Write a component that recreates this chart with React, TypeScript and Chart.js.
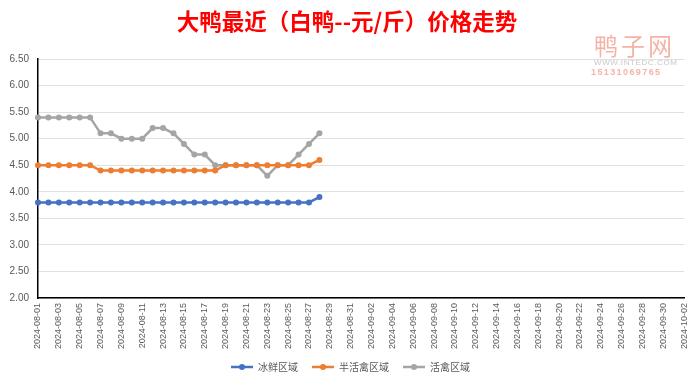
import React, { useEffect, useRef } from "react";
import { Chart, registerables } from "chart.js";

Chart.register(...registerables);

const TITLE = "大鸭最近（白鸭--元/斤）价格走势";

const DATES = [
  "2024-08-01","2024-08-02","2024-08-03","2024-08-04","2024-08-05","2024-08-06","2024-08-07","2024-08-08",
  "2024-08-09","2024-08-10","2024-08-11","2024-08-12","2024-08-13","2024-08-14","2024-08-15","2024-08-16",
  "2024-08-17","2024-08-18","2024-08-19","2024-08-20","2024-08-21","2024-08-22","2024-08-23","2024-08-24",
  "2024-08-25","2024-08-26","2024-08-27","2024-08-28","2024-08-29","2024-08-30","2024-08-31",
  "2024-09-01","2024-09-02","2024-09-03","2024-09-04","2024-09-05","2024-09-06","2024-09-07","2024-09-08",
  "2024-09-09","2024-09-10","2024-09-11","2024-09-12","2024-09-13","2024-09-14","2024-09-15","2024-09-16",
  "2024-09-17","2024-09-18","2024-09-19","2024-09-20","2024-09-21","2024-09-22","2024-09-23","2024-09-24",
  "2024-09-25","2024-09-26","2024-09-27","2024-09-28","2024-09-29","2024-09-30",
  "2024-10-01","2024-10-02",
];

const SERIES_NAMES = ["冰鲜区域", "半活禽区域", "活禽区域"];

const ICE_FRESH = [
  3.8, 3.8, 3.8, 3.8, 3.8, 3.8, 3.8, 3.8, 3.8, 3.8, 3.8, 3.8, 3.8, 3.8,
  3.8, 3.8, 3.8, 3.8, 3.8, 3.8, 3.8, 3.8, 3.8, 3.8, 3.8, 3.8, 3.8, 3.9,
];
const HALF_LIVE = [
  4.5, 4.5, 4.5, 4.5, 4.5, 4.5, 4.4, 4.4, 4.4, 4.4, 4.4, 4.4, 4.4, 4.4,
  4.4, 4.4, 4.4, 4.4, 4.5, 4.5, 4.5, 4.5, 4.5, 4.5, 4.5, 4.5, 4.5, 4.6,
];
const LIVE = [
  5.4, 5.4, 5.4, 5.4, 5.4, 5.4, 5.1, 5.1, 5.0, 5.0, 5.0, 5.2, 5.2, 5.1,
  4.9, 4.7, 4.7, 4.5, 4.5, 4.5, 4.5, 4.5, 4.3, 4.5, 4.5, 4.7, 4.9, 5.1,
];

const Y_MIN = 2;
const Y_MAX = 6.5;
const Y_STEP = 0.5;

const COLORS = ["#4472C4", "#ED7D31", "#A5A5A5"];

const ICON_GAP = 7;
const ICON_LEN = 22;

function legendIcon(color: string) {
  const c = document.createElement("canvas");
  c.width = ICON_GAP + ICON_LEN;
  c.height = 8;
  const ctx = c.getContext("2d")!;
  ctx.strokeStyle = color;
  ctx.lineWidth = 2.5;
  ctx.beginPath();
  ctx.moveTo(ICON_GAP, 4);
  ctx.lineTo(ICON_GAP + ICON_LEN, 4);
  ctx.stroke();
  ctx.fillStyle = color;
  ctx.beginPath();
  ctx.arc(ICON_GAP + ICON_LEN / 2, 4, 3, 0, Math.PI * 2);
  ctx.fill();
  return c;
}

export default function App() {
  const ref = useRef<HTMLCanvasElement>(null);

  useEffect(() => {
    document.body.style.margin = "0";
    const icons = COLORS.map(legendIcon);
    const values = [ICE_FRESH, HALF_LIVE, LIVE];
    const chart = new Chart(ref.current!, {
      type: "line",
      data: {
        labels: DATES,
        datasets: SERIES_NAMES.map((name, i) => ({
          label: name,
          data: values[i],
          borderColor: COLORS[i],
          backgroundColor: COLORS[i],
          borderWidth: 2.5,
          pointRadius: 3,
          pointHoverRadius: 3,
          pointBorderWidth: 0,
          tension: 0,
        })),
      },
      options: {
        animation: false,
        responsive: false,
        layout: { padding: { left: 8, right: 14, top: 2, bottom: 1 } },
        plugins: {
          title: {
            display: true,
            text: TITLE,
            color: "#FF0000",
            font: { size: 22.5, weight: "bold", family: "'Noto Sans CJK SC', sans-serif" },
            padding: { top: 6, bottom: 24 },
          },
          legend: {
            position: "bottom",
            labels: {
              usePointStyle: true,
              pointStyleWidth: ICON_GAP + ICON_LEN,
              padding: 7,
              color: "#595959",
              font: { size: 10, family: "'Noto Sans CJK SC', sans-serif" },
              generateLabels: (ch: any) => {
                const items = Chart.defaults.plugins.legend.labels.generateLabels(ch);
                return items.map((it: any, i: number) => ({ ...it, pointStyle: icons[i] }));
              },
            },
          },
          tooltip: { enabled: false },
        },
        scales: {
          x: {
            grid: { display: false, drawTicks: false },
            border: { display: true, color: "#000000", width: 1.5 },
            afterFit: (s: any) => {
              s.height = 57;
            },
            ticks: {
              autoSkip: false,
              maxRotation: 90,
              minRotation: 90,
              color: "#595959",
              font: { size: 9, family: "'Liberation Sans', sans-serif" },
              padding: 5,
              callback: (_v: any, i: number) => (i % 2 === 0 ? DATES[i] : ""),
            },
          },
          y: {
            min: Y_MIN,
            max: Y_MAX,
            afterFit: (s: any) => {
              s.width = 30;
            },
            ticks: {
              stepSize: Y_STEP,
              color: "#595959",
              font: { size: 10, family: "'Liberation Sans', sans-serif" },
              padding: 9,
              callback: (v: any) => Number(v).toFixed(2),
            },
            grid: { color: "#E0E0E0", drawTicks: false },
            border: { display: true, color: "#000000", width: 1.5 },
          },
        },
      },
    });
    return () => chart.destroy();
  }, []);

  return (
    <div style={{ position: "relative", width: 700, height: 383, background: "#fff" }}>
      <canvas ref={ref} width={700} height={383} />
      <div
        style={{
          position: "absolute",
          left: 594,
          top: 32,
          color: "#F5B3A6",
          fontFamily: "'Noto Sans CJK SC', sans-serif",
          fontSize: 24,
          lineHeight: "26px",
          letterSpacing: 3,
        }}
      >
        鸭子网
      </div>
      <div
        style={{
          position: "absolute",
          left: 594,
          top: 58,
          color: "#C8C8C8",
          fontFamily: "'Liberation Sans', sans-serif",
          fontSize: 8,
          lineHeight: "9px",
          letterSpacing: 0.6,
        }}
      >
        WWW.INTEDC.COM
      </div>
      <div
        style={{
          position: "absolute",
          left: 591,
          top: 67,
          color: "#F5B3A6",
          fontFamily: "'Liberation Sans', sans-serif",
          fontSize: 9,
          fontWeight: "bold",
          lineHeight: "10px",
          letterSpacing: 1.4,
        }}
      >
        15131069765
      </div>
    </div>
  );
}
